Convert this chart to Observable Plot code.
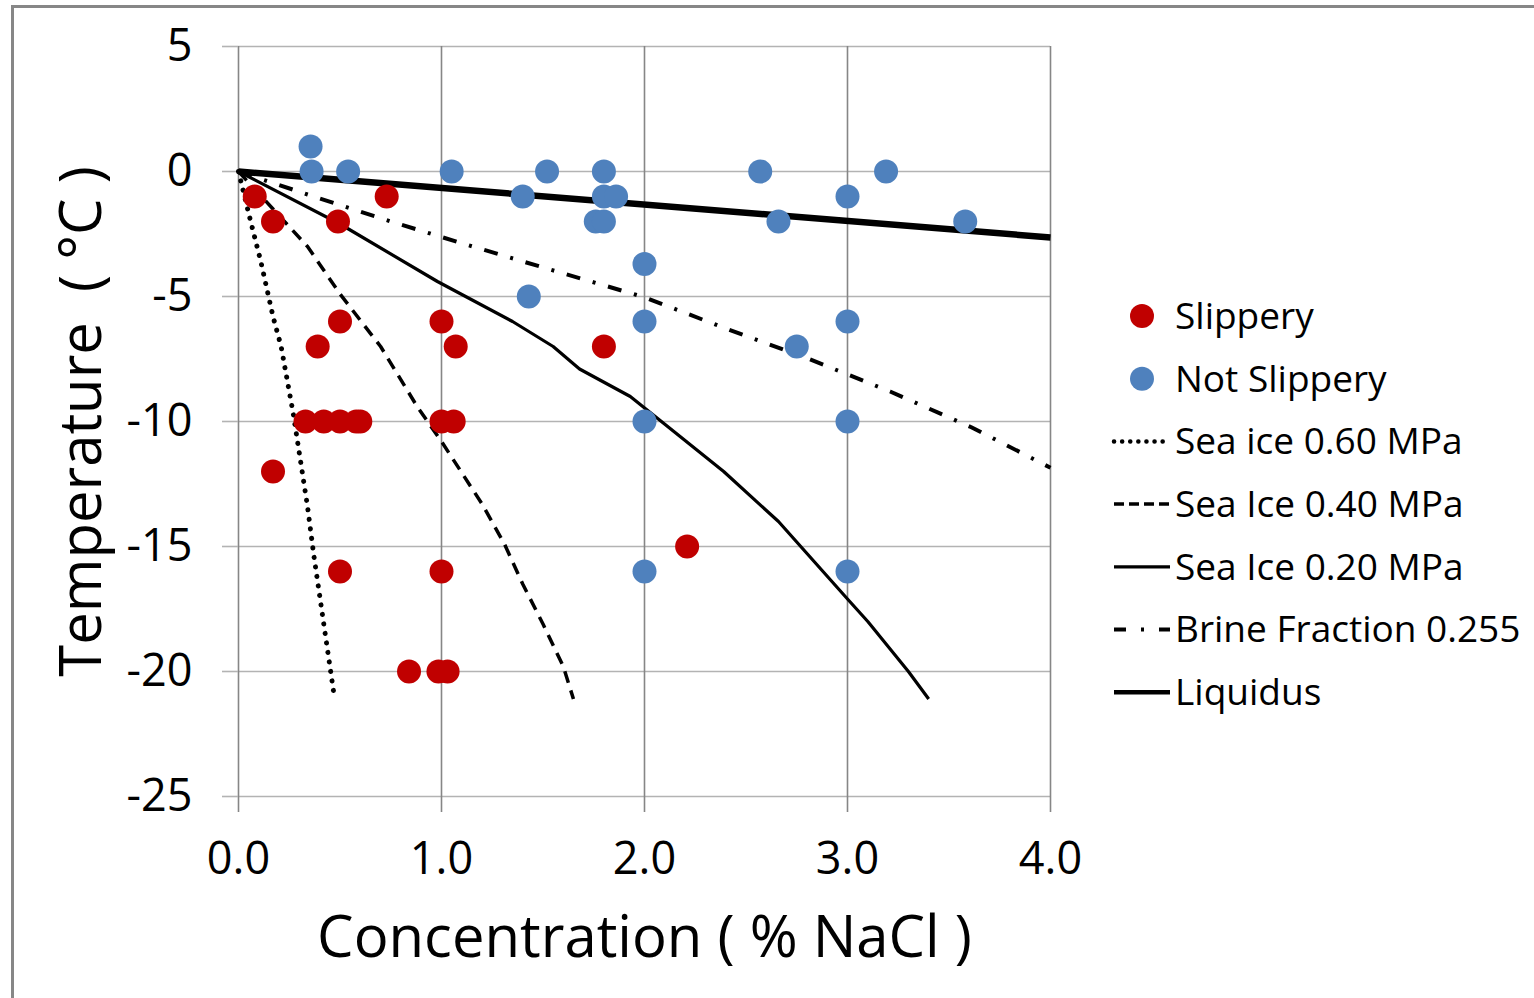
<!DOCTYPE html>
<html><head><meta charset="utf-8">
<script src="https://cdn.jsdelivr.net/npm/d3@7"></script>
<script src="https://cdn.jsdelivr.net/npm/@observablehq/plot@0.6"></script>
<style>
body{margin:0;background:#fff;}
#wrap{position:relative;width:1534px;height:998px;overflow:hidden;font-family:"Open Sans",sans-serif;}
#border{position:absolute;left:11px;top:5px;width:1600px;height:1100px;border:3px solid #878787;box-sizing:border-box;}
#chart{position:absolute;left:0;top:0;}
#legend{position:absolute;left:1100px;top:280px;}
</style></head><body><div id="wrap"><div id="border"></div><div id="chart"></div><svg id="legend" width="434" height="440"></svg></div>
<script>
// Data
const slipperyX = [0.08, 0.17, 0.49, 0.73, 0.50, 0.39, 1.00, 1.07, 1.80, 0.33, 0.42, 0.50, 0.58, 0.60, 1.00, 1.06, 0.17, 0.50, 1.00, 2.21, 0.84, 0.985, 1.03];
const slipperyY = [-1, -2, -2, -1, -6, -7, -6, -7, -7, -10, -10, -10, -10, -10, -10, -10, -12, -16, -16, -15, -20, -20, -20];
const notSlipperyX = [0.355, 0.36, 0.54, 1.05, 1.52, 1.80, 2.57, 3.19, 1.40, 1.80, 1.86, 3.00, 1.76, 1.80, 2.66, 3.58, 2.00, 1.43, 2.00, 3.00, 2.75, 2.00, 3.00, 2.00, 3.00];
const notSlipperyY = [1, 0, 0, 0, 0, 0, 0, 0, -1, -1, -1, -1, -2, -2, -2, -2, -3.7, -5, -6, -6, -7, -10, -10, -16, -16];

const seaIce060X = [0, 0.06, 0.11, 0.17, 0.21, 0.27, 0.34, 0.37, 0.42, 0.47];
const seaIce060Y = [0, -2.0, -3.6, -5.8, -7.0, -9.7, -13.4, -15.3, -18.1, -20.9];
const seaIce040X = [0, 0.17, 0.34, 0.50, 0.70, 0.88, 1.00, 1.20, 1.31, 1.40, 1.50, 1.60, 1.65];
const seaIce040Y = [0, -1.5, -3.0, -4.9, -7.0, -9.4, -10.8, -13.3, -14.9, -16.5, -18.1, -19.8, -21.1];
const seaIce020X = [0, 0.50, 0.98, 1.35, 1.55, 1.68, 1.93, 2.39, 2.66, 3.00, 3.10, 3.30, 3.40];
const seaIce020Y = [0, -2.1, -4.4, -6.0, -7.0, -7.9, -9.0, -12.0, -14.0, -17.1, -18.0, -20.0, -21.1];
const brineX = [0, 0.34, 0.75, 1.17, 1.58, 2.00, 2.40, 2.81, 3.21, 3.61, 4.00];
const brineY = [0, -0.92, -2.0, -3.04, -4.03, -5.03, -6.28, -7.5, -8.8, -10.23, -11.85];
const liquidusX = [0, 4.0];
const liquidusY = [0, -2.64];

const xTicks = [0, 1, 2, 3, 4];
const yTicks = [5, 0, -5, -10, -15, -20, -25];
const xLabel = "Concentration ( % NaCl )";
const yLabel = "Temperature  ( °C )";
const seriesNames = ["Slippery", "Not Slippery", "Sea ice 0.60 MPa", "Sea Ice 0.40 MPa", "Sea Ice 0.20 MPa", "Brine Fraction 0.255", "Liquidus"];

const RED = "#C00000", BLUE = "#4F81BD";
const styles = {
  "Sea ice 0.60 MPa": {strokeWidth: 5, strokeDasharray: "0.1 9.5", strokeLinecap: "round", legendDash: "0.1 8"},
  "Sea Ice 0.40 MPa": {strokeWidth: 3.5, strokeDasharray: "12 8", strokeLinecap: "butt", legendDash: "10 5"},
  "Sea Ice 0.20 MPa": {strokeWidth: 3.2, strokeDasharray: null, strokeLinecap: "butt", legendDash: null},
  "Brine Fraction 0.255": {strokeWidth: 4, strokeDasharray: "14 13 3 13", strokeLinecap: "butt", legendDash: "12 15 3 15 12"},
  "Liquidus": {strokeWidth: 6.5, strokeDasharray: null, strokeLinecap: "butt", legendDash: null}
};
const FONT = '"Open Sans", sans-serif';

const lineMark = (xs, ys, name) => {
  const s = styles[name];
  const o = {x: xs, y: ys, stroke: "#000", strokeLinejoin: "round", strokeWidth: s.strokeWidth, strokeLinecap: s.strokeLinecap};
  if (s.strokeDasharray) o.strokeDasharray = s.strokeDasharray;
  return Plot.line(xs, o);
};

const chart = Plot.plot({
  width: 1534, height: 998,
  marginLeft: 238, marginRight: 484, marginTop: 46, marginBottom: 202,
  x: {domain: [0, 4]},
  y: {domain: [-25, 5]},
  style: {fontFamily: FONT, background: "transparent", color: "#000"},
  marks: [
    Plot.gridY(yTicks, {stroke: "#b3b3b3", strokeOpacity: 1, strokeWidth: 1.6}),
    Plot.gridX(xTicks, {stroke: "#868686", strokeOpacity: 1, strokeWidth: 1.6}),
    Plot.axisX(xTicks, {tickSize: 16, tickPadding: 30, stroke: "#868686", strokeWidth: 1.6, tickFormat: d3.format(".1f"), fontSize: 45, label: null}),
    Plot.axisY(yTicks, {tickSize: 16, tickPadding: 30, stroke: "#b3b3b3", strokeWidth: 1.6, tickFormat: d => String(d), fontSize: 45, label: null}),
    lineMark(liquidusX, liquidusY, "Liquidus"),
    lineMark(brineX, brineY, "Brine Fraction 0.255"),
    lineMark(seaIce020X, seaIce020Y, "Sea Ice 0.20 MPa"),
    lineMark(seaIce040X, seaIce040Y, "Sea Ice 0.40 MPa"),
    lineMark(seaIce060X, seaIce060Y, "Sea ice 0.60 MPa"),
    Plot.dot(notSlipperyX, {x: notSlipperyX, y: notSlipperyY, r: 12, fill: BLUE, stroke: null}),
    Plot.dot(slipperyX, {x: slipperyX, y: slipperyY, r: 12, fill: RED, stroke: null}),
    Plot.text([xLabel], {frameAnchor: "bottom", dy: 142, lineAnchor: "middle", textAnchor: "middle", fontSize: 58, fill: "#000"}),
    Plot.text([yLabel], {frameAnchor: "left", dx: -156, rotate: -90, lineAnchor: "middle", textAnchor: "middle", fontSize: 58, fill: "#000"})
  ]
});
document.getElementById("chart").appendChild(chart);

// Legend
const leg = d3.select("#legend");
const rowY = i => 36 + i * 62.7;
seriesNames.forEach((name, i) => {
  const g = leg.append("g").attr("transform", `translate(0,${rowY(i)})`);
  if (i < 2) {
    g.append("circle").attr("cx", 42).attr("cy", 0).attr("r", 12).attr("fill", i === 0 ? RED : BLUE);
  } else {
    const s = styles[name];
    const ln = g.append("line").attr("x1", 14).attr("x2", 70).attr("y1", 0).attr("y2", 0)
      .attr("stroke", "#000").attr("stroke-width", Math.min(s.strokeWidth, 4.5))
      .attr("stroke-linecap", s.strokeLinecap);
    if (s.legendDash) ln.attr("stroke-dasharray", s.legendDash);
  }
  g.append("text").attr("x", 75).attr("y", 0).attr("dy", "0.35em")
    .attr("font-family", FONT).attr("font-size", 37).attr("fill", "#000").text(name);
});
</script>
</body></html>
